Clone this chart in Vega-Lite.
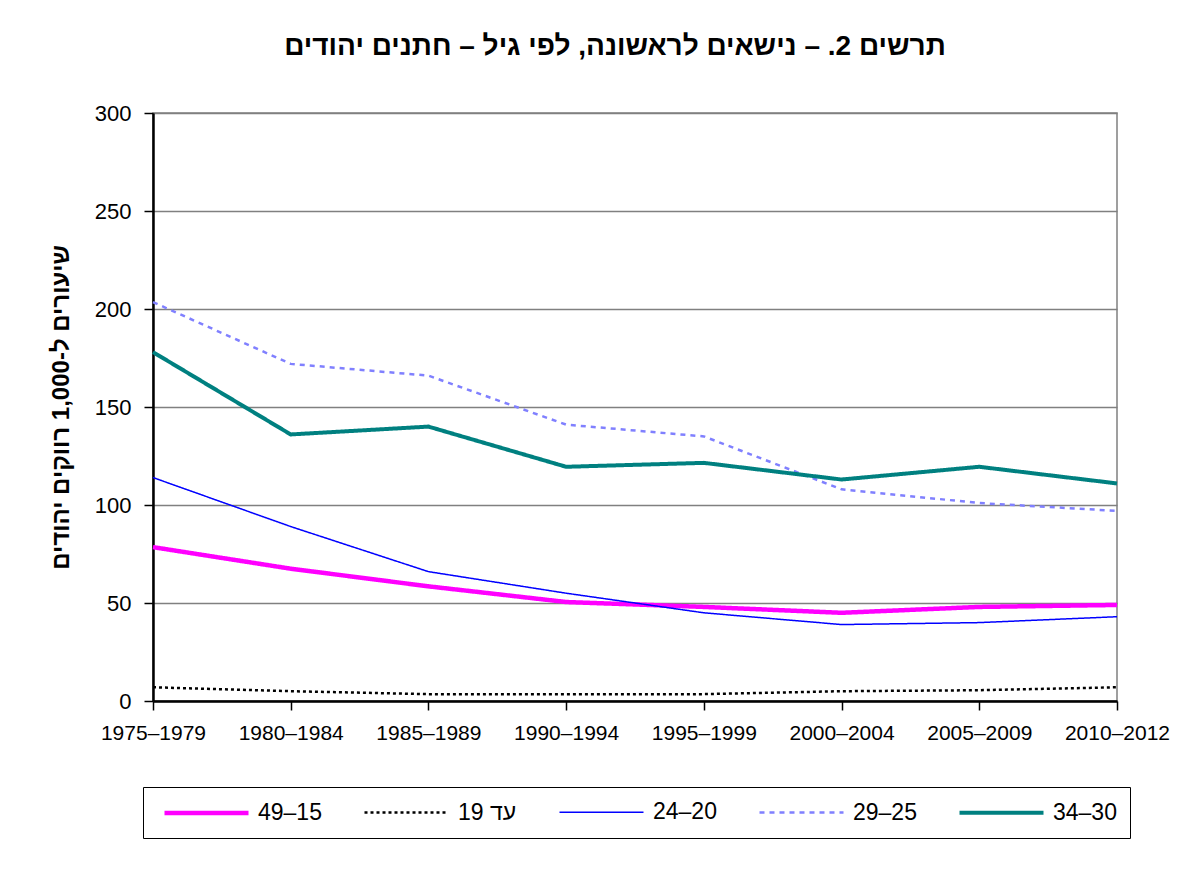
{
  "$schema": "https://vega.github.io/schema/vega-lite/v6.json",
  "width": 964,
  "height": 588,
  "autosize": "none",
  "padding": {"left": 153, "top": 113, "right": 72, "bottom": 171},
  "background": "white",
  "title": {
    "text": "תרשים 2. – נישאים לראשונה, לפי גיל – חתנים יהודים",
    "font": "Liberation Sans",
    "fontSize": 28,
    "fontWeight": "bold",
    "color": "black",
    "anchor": "middle",
    "dx": -20,
    "offset": 41
  },
  "config": {
    "view": {"stroke": "#808080", "strokeWidth": 1.5},
    "font": "Liberation Sans"
  },
  "data": {
    "values": [
      {"period": "1975–1979", "series": "49–15", "value": 78.5},
      {"period": "1980–1984", "series": "49–15", "value": 67.5},
      {"period": "1985–1989", "series": "49–15", "value": 58.5},
      {"period": "1990–1994", "series": "49–15", "value": 50.5},
      {"period": "1995–1999", "series": "49–15", "value": 48},
      {"period": "2000–2004", "series": "49–15", "value": 45},
      {"period": "2005–2009", "series": "49–15", "value": 48},
      {"period": "2010–2012", "series": "49–15", "value": 49},
      {"period": "1975–1979", "series": "עד 19", "value": 7},
      {"period": "1980–1984", "series": "עד 19", "value": 5},
      {"period": "1985–1989", "series": "עד 19", "value": 3.5},
      {"period": "1990–1994", "series": "עד 19", "value": 3.5},
      {"period": "1995–1999", "series": "עד 19", "value": 3.5},
      {"period": "2000–2004", "series": "עד 19", "value": 5},
      {"period": "2005–2009", "series": "עד 19", "value": 5.5},
      {"period": "2010–2012", "series": "עד 19", "value": 7},
      {"period": "1975–1979", "series": "24–20", "value": 114},
      {"period": "1980–1984", "series": "24–20", "value": 89},
      {"period": "1985–1989", "series": "24–20", "value": 66},
      {"period": "1990–1994", "series": "24–20", "value": 55},
      {"period": "1995–1999", "series": "24–20", "value": 45},
      {"period": "2000–2004", "series": "24–20", "value": 39},
      {"period": "2005–2009", "series": "24–20", "value": 40},
      {"period": "2010–2012", "series": "24–20", "value": 43},
      {"period": "1975–1979", "series": "29–25", "value": 203.5},
      {"period": "1980–1984", "series": "29–25", "value": 172},
      {"period": "1985–1989", "series": "29–25", "value": 166},
      {"period": "1990–1994", "series": "29–25", "value": 141},
      {"period": "1995–1999", "series": "29–25", "value": 135},
      {"period": "2000–2004", "series": "29–25", "value": 108},
      {"period": "2005–2009", "series": "29–25", "value": 101},
      {"period": "2010–2012", "series": "29–25", "value": 97},
      {"period": "1975–1979", "series": "34–30", "value": 178},
      {"period": "1980–1984", "series": "34–30", "value": 136},
      {"period": "1985–1989", "series": "34–30", "value": 140},
      {"period": "1990–1994", "series": "34–30", "value": 119.5},
      {"period": "1995–1999", "series": "34–30", "value": 121.5},
      {"period": "2000–2004", "series": "34–30", "value": 113},
      {"period": "2005–2009", "series": "34–30", "value": 119.5},
      {"period": "2010–2012", "series": "34–30", "value": 111}
    ]
  },
  "mark": {"type": "line", "clip": false},
  "encoding": {
    "x": {
      "field": "period",
      "type": "ordinal",
      "sort": null,
      "scale": {"type": "point", "padding": 0},
      "axis": {
        "title": null,
        "labelAngle": 0,
        "labelFont": "Liberation Sans",
        "labelFontSize": 21,
        "labelColor": "black",
        "labelPadding": 12,
        "tickColor": "black",
        "tickSize": 9,
        "tickWidth": 1.5,
        "domainColor": "black",
        "domainWidth": 2.5,
        "grid": false
      }
    },
    "y": {
      "field": "value",
      "type": "quantitative",
      "scale": {"domain": [0, 300], "nice": false},
      "axis": {
        "values": [0, 50, 100, 150, 200, 250, 300],
        "title": "שיעורים ל-1,000 רווקים יהודים",
        "titleFont": "Liberation Sans",
        "titleFontSize": 24,
        "titleFontWeight": "bold",
        "titleColor": "black",
        "titlePadding": 21,
        "labelFont": "Liberation Sans",
        "labelFontSize": 22,
        "labelColor": "black",
        "labelPadding": 13,
        "tickColor": "black",
        "tickSize": 9,
        "tickWidth": 1.5,
        "domainColor": "black",
        "domainWidth": 2.5,
        "grid": true,
        "gridColor": "#808080",
        "gridWidth": 1.3
      }
    },
    "color": {
      "field": "series",
      "type": "nominal",
      "scale": {
        "domain": ["49–15", "עד 19", "24–20", "29–25", "34–30"],
        "range": ["#FF00FF", "#000000", "#0000FF", "#8080FF", "#008080"]
      },
      "legend": {
        "title": null,
        "orient": "none",
        "legendX": -10,
        "legendY": 674,
        "direction": "horizontal",
        "columns": 5,
        "columnPadding": 34,
        "padding": 13,
        "fillColor": "white",
        "strokeColor": "black",
        "symbolType": "M-4,0H4",
        "symbolSize": 441,
        "symbolOffset": 37.5,
        "labelOffset": 38.5,
        "labelFont": "Liberation Sans",
        "labelFontSize": 23,
        "labelColor": "black",
        "labelLimit": 200
      }
    },
    "strokeDash": {
      "field": "series",
      "type": "nominal",
      "scale": {
        "domain": ["49–15", "עד 19", "24–20", "29–25", "34–30"],
        "range": [[1, 0], [3, 3], [1, 0], [5, 5], [1, 0]]
      },
      "legend": null
    },
    "strokeWidth": {
      "field": "series",
      "type": "nominal",
      "scale": {
        "type": "ordinal",
        "domain": ["49–15", "עד 19", "24–20", "29–25", "34–30"],
        "range": [4.5, 2.5, 1.5, 2.5, 4]
      },
      "legend": null
    }
  }
}
